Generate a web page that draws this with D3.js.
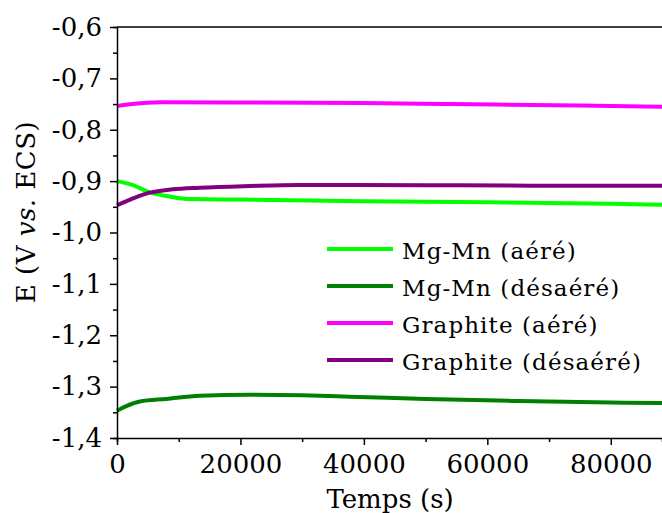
<!DOCTYPE html>
<html>
<head>
<meta charset="utf-8">
<script src="https://cdn.jsdelivr.net/npm/d3@7"></script>
<style>
  body { margin: 0; background: #fff; }
  svg text { font-family: "DejaVu Serif", serif; fill: #000; }
</style>
</head>
<body>
<svg id="chart" width="662" height="513"></svg>
<script>
// time (s) and potential (V vs. ECS)
const mgAereT = [0, 2500, 5300, 8500, 11800, 20000, 40000, 60000, 80000, 88300];
const mgAereE = [-0.900, -0.9075, -0.922, -0.930, -0.935, -0.936, -0.939, -0.941, -0.944, -0.946];

const mgDesT = [0, 1500, 3700, 8000, 13400, 21500, 30000, 37700, 50000, 65000, 80000, 88300];
const mgDesE = [-1.347, -1.338, -1.329, -1.324, -1.318, -1.316, -1.317, -1.3195, -1.324, -1.328, -1.331, -1.332];

const grAereT = [0, 2500, 6900, 20000, 40000, 54000, 75000, 88300];
const grAereE = [-0.754, -0.750, -0.7466, -0.747, -0.748, -0.750, -0.753, -0.755];

const grDesT = [0, 2500, 5300, 9000, 13400, 21500, 29600, 50000, 70000, 88300];
const grDesE = [-0.947, -0.934, -0.9225, -0.916, -0.9128, -0.9095, -0.9075, -0.908, -0.909, -0.909];

const legendNames = ["Mg-Mn (aéré)", "Mg-Mn (désaéré)", "Graphite (aéré)", "Graphite (désaéré)"];
const colors = ["#00ff00", "#008000", "#ff00ff", "#800080"];
const xTicks = [0, 20000, 40000, 60000, 80000];
const yTicks = [-1.4, -1.3, -1.2, -1.1, -1.0, -0.9, -0.8, -0.7, -0.6];

const series = [
  { name: legendNames[0], t: mgAereT, e: mgAereE, color: colors[0] },
  { name: legendNames[1], t: mgDesT, e: mgDesE, color: colors[1] },
  { name: legendNames[2], t: grAereT, e: grAereE, color: colors[2] },
  { name: legendNames[3], t: grDesT, e: grDesE, color: colors[3] }
];

const svg = d3.select("#chart");
const x = d3.scaleLinear().domain([0, 88300]).range([117, 662]);
const y = d3.scaleLinear().domain([-1.4, -0.6]).range([438, 27]);
const fmtY = d => d3.format(".1f")(d).replace("−", "-").replace(".", ",");

// lines
const line = d3.line().curve(d3.curveMonotoneX);
series.forEach(s => {
  svg.append("path")
    .datum(s.t.map((t, i) => [x(t), y(s.e[i])]))
    .attr("fill", "none")
    .attr("stroke", s.color)
    .attr("stroke-width", 4)
    .attr("d", line);
});

// y axis
const yAxis = svg.append("g")
  .attr("transform", "translate(117,0)")
  .call(d3.axisLeft(y).tickValues(yTicks).tickFormat(fmtY).tickSize(7).tickPadding(8));
yAxis.append("g")
  .call(d3.axisLeft(y).tickValues(d3.range(-1.35, -0.6, 0.1)).tickFormat("").tickSize(4));

// x axis
const xAxis = svg.append("g")
  .attr("transform", "translate(0,438)")
  .call(d3.axisBottom(x).tickValues(xTicks).tickFormat(d3.format("d")).tickSize(7).tickPadding(10));
xAxis.append("g")
  .call(d3.axisBottom(x).tickValues([10000, 30000, 50000, 70000]).tickFormat("").tickSize(4));

svg.selectAll(".domain").attr("stroke-width", 1.5);
svg.selectAll(".tick line").attr("stroke-width", 1.5);
svg.selectAll(".tick text").style("font-size", "26px");
// the minor-tick groups should not draw their own domain
yAxis.select("g .domain").remove();
xAxis.select("g .domain").remove();

// top frame line
svg.append("line")
  .attr("x1", 117).attr("x2", 662).attr("y1", 27).attr("y2", 27)
  .attr("stroke", "#000").attr("stroke-width", 1.5);

// axis titles
svg.append("text")
  .attr("x", 390).attr("y", 508)
  .attr("text-anchor", "middle")
  .style("font-size", "26px")
  .text("Temps (s)");

const yt = svg.append("text")
  .attr("transform", "translate(35,212) rotate(-90)")
  .attr("text-anchor", "middle")
  .style("font-size", "26px")
  .style("letter-spacing", "0.5px");
yt.append("tspan").text("E (V ");
yt.append("tspan").style("font-style", "italic").text("vs.");
yt.append("tspan").text(" ECS)");

// legend
const leg = svg.append("g");
series.forEach((s, i) => {
  const ly = 249 + i * 37;
  leg.append("line")
    .attr("x1", 327).attr("x2", 393).attr("y1", ly).attr("y2", ly)
    .attr("stroke", s.color).attr("stroke-width", 4);
  leg.append("text")
    .attr("x", 402).attr("y", ly + 10)
    .style("font-size", "23px")
    .style("letter-spacing", "1.1px")
    .text(s.name);
});
</script>
</body>
</html>
